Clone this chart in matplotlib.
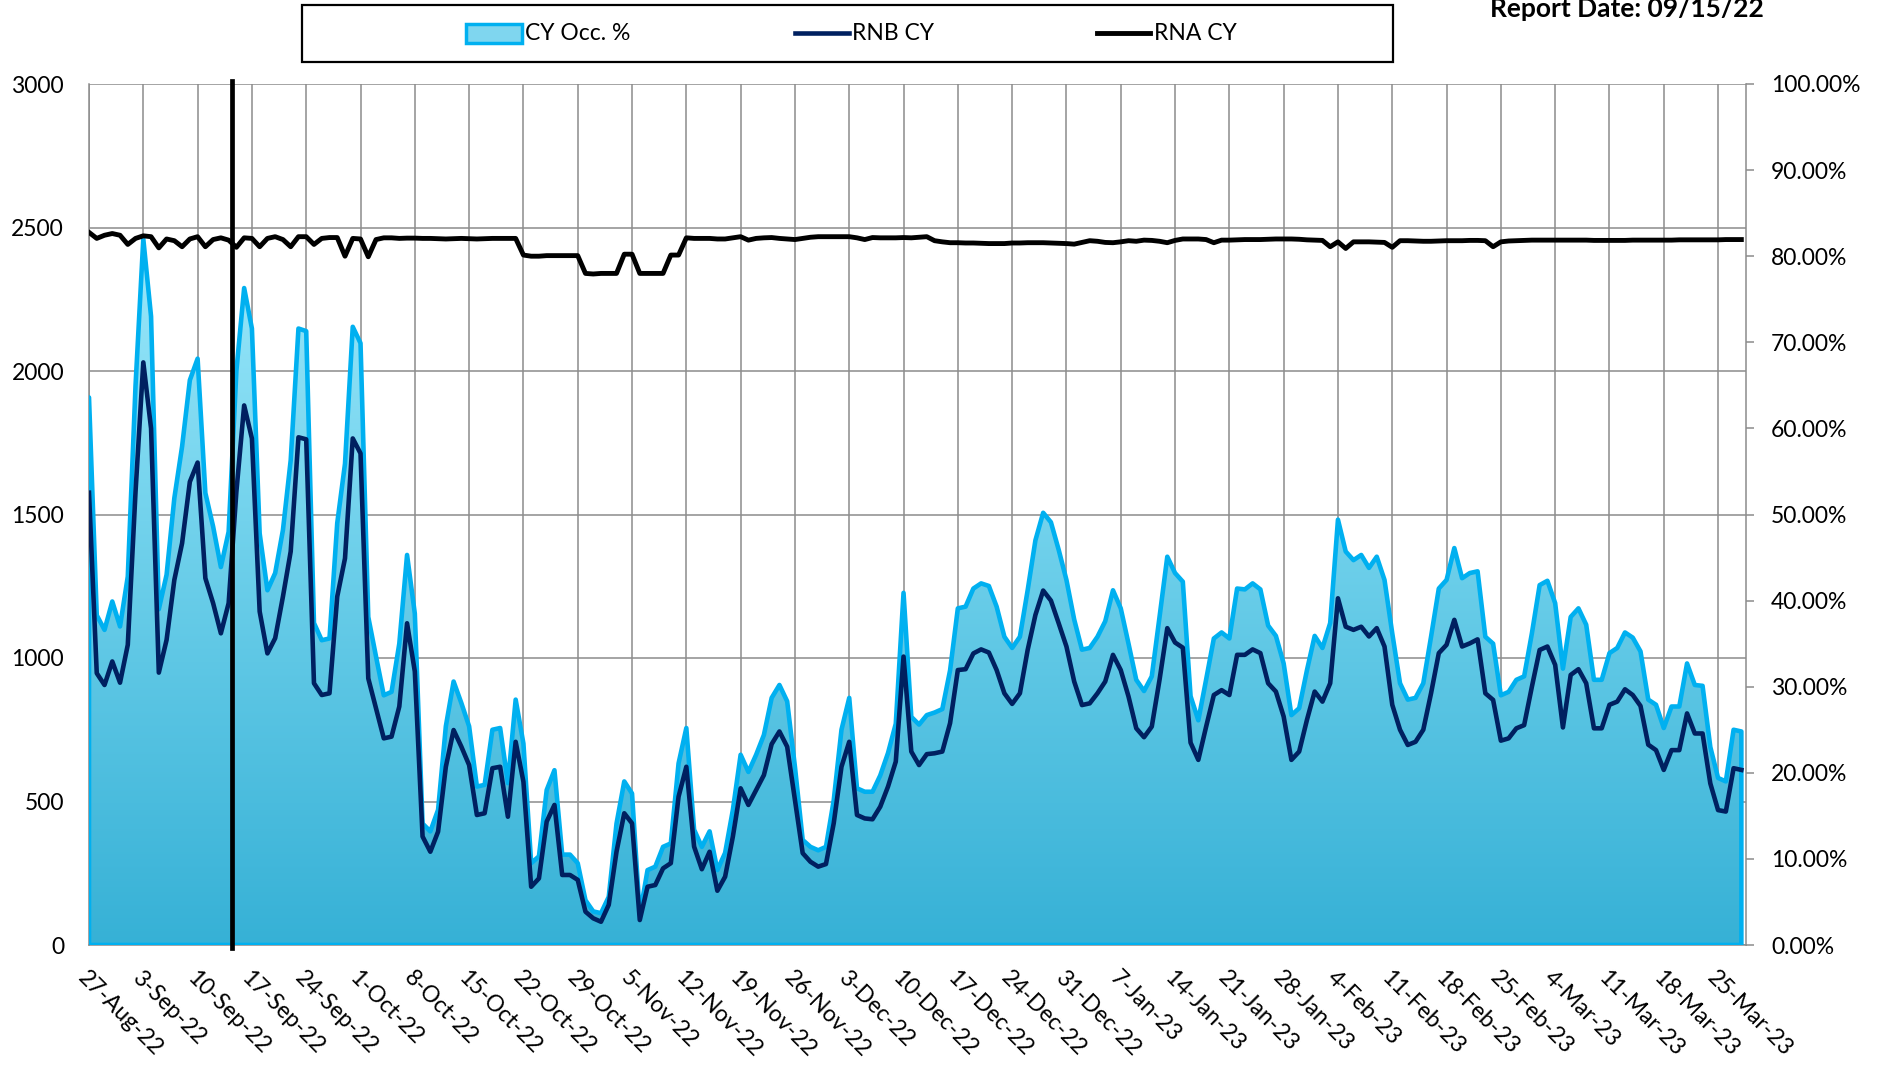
import numpy as np
import matplotlib
matplotlib.use('Agg')
import matplotlib.pyplot as plt
import matplotlib.ticker as ticker
from matplotlib.colors import LinearSegmentedColormap
from matplotlib.lines import Line2D
from matplotlib.patches import Rectangle

plt.rcParams['font.family'] = ['Lato', 'DejaVu Sans']

# weekly tick labels, one every 7 days starting 27-Aug-22
week_labels = ['27-Aug-22', '3-Sep-22', '10-Sep-22', '17-Sep-22', '24-Sep-22', '1-Oct-22',
               '8-Oct-22', '15-Oct-22', '22-Oct-22', '29-Oct-22', '5-Nov-22', '12-Nov-22',
               '19-Nov-22', '26-Nov-22', '3-Dec-22', '10-Dec-22', '17-Dec-22', '24-Dec-22',
               '31-Dec-22', '7-Jan-23', '14-Jan-23', '21-Jan-23', '28-Jan-23', '4-Feb-23',
               '11-Feb-23', '18-Feb-23', '25-Feb-23', '4-Mar-23', '11-Mar-23', '18-Mar-23',
               '25-Mar-23']

# CY Occ. % (right axis), one value per day
occ_pct = [
    63.6, 38.3, 36.6, 39.9, 37.0, 42.8, 65.0, 82.0, 73.0, 39.0,
    43.0, 51.9, 57.9, 65.6, 68.1, 52.5, 48.6, 43.9, 48.0, 66.7,
    76.3, 71.6, 47.8, 41.2, 43.2, 48.2, 56.3, 71.6, 71.3, 37.4,
    35.4, 35.6, 49.0, 55.9, 71.8, 69.9, 38.1, 33.5, 29.0, 29.4,
    35.0, 45.3, 38.5, 14.1, 13.2, 15.7, 25.4, 30.6, 28.1, 25.4,
    18.4, 18.6, 25.0, 25.2, 18.8, 28.5, 23.4, 9.5, 10.3, 18.0,
    20.3, 10.5, 10.5, 9.5, 5.2, 3.9, 3.7, 5.6, 14.1, 19.0,
    17.6, 3.5, 8.7, 9.1, 11.4, 11.8, 21.1, 25.2, 13.4, 11.4,
    13.2, 8.7, 10.7, 15.7, 22.1, 20.1, 22.1, 24.4, 28.7, 30.2,
    28.3, 20.7, 12.2, 11.4, 11.0, 11.4, 16.8, 25.0, 28.7, 18.2,
    17.8, 17.8, 19.7, 22.3, 25.7, 40.9, 26.5, 25.6, 26.7, 27.0,
    27.4, 31.9, 39.1, 39.3, 41.4, 42.0, 41.7, 39.3, 35.8, 34.5,
    35.8, 41.2, 47.0, 50.2, 49.1, 45.9, 42.4, 37.8, 34.3, 34.5,
    35.8, 37.6, 41.2, 39.1, 35.0, 30.8, 29.5, 31.2, 38.1, 45.1,
    43.2, 42.2, 28.9, 26.1, 30.8, 35.6, 36.3, 35.6, 41.4, 41.3,
    42.0, 41.3, 37.1, 35.9, 32.7, 26.7, 27.5, 31.9, 35.9, 34.5,
    37.4, 49.4, 45.7, 44.7, 45.3, 43.8, 45.1, 42.4, 36.2, 30.4,
    28.5, 28.7, 30.4, 35.8, 41.4, 42.4, 46.1, 42.6, 43.2, 43.4,
    35.8, 35.0, 29.0, 29.4, 30.8, 31.2, 36.2, 41.8, 42.3, 39.7,
    32.1, 38.1, 39.1, 37.2, 30.8, 30.8, 33.9, 34.5, 36.3, 35.7,
    34.1, 28.5, 27.9, 25.2, 27.7, 27.7, 32.7, 30.2, 30.1, 23.0,
    19.4, 19.0, 25.0, 24.8,
]

# RNB CY (left axis)
rnb_cy = [
    1576, 947, 906, 988, 914, 1046, 1580, 2030, 1800, 949,
    1063, 1272, 1400, 1614, 1681, 1278, 1191, 1086, 1191, 1580,
    1880, 1765, 1162, 1016, 1069, 1214, 1371, 1769, 1762, 912,
    871, 877, 1214, 1347, 1765, 1713, 929, 825, 720, 726,
    831, 1121, 953, 378, 325, 395, 621, 749, 691, 627,
    453, 459, 616, 621, 447, 708, 569, 203, 232, 430,
    488, 244, 244, 227, 116, 93, 81, 140, 325, 459,
    424, 87, 203, 209, 267, 285, 517, 621, 343, 264,
    325, 189, 238, 378, 546, 488, 540, 592, 700, 744,
    691, 505, 320, 290, 273, 282, 424, 621, 708, 453,
    441, 438, 482, 552, 639, 1005, 674, 627, 665, 668,
    674, 773, 958, 961, 1016, 1030, 1019, 958, 877, 840,
    877, 1028, 1150, 1235, 1200, 1121, 1040, 918, 836, 842,
    877, 918, 1011, 958, 866, 755, 724, 761, 924, 1104,
    1054, 1036, 705, 645, 760, 871, 888, 871, 1011, 1011,
    1030, 1017, 912, 883, 796, 645, 674, 784, 883, 848,
    912, 1208, 1109, 1098, 1109, 1075, 1104, 1040, 837, 750,
    697, 708, 750, 877, 1017, 1046, 1133, 1040, 1051, 1065,
    877, 854, 712, 720, 755, 766, 900, 1028, 1040, 976,
    758, 941, 961, 912, 755, 755, 837, 848, 891, 871,
    833, 698, 679, 610, 679, 679, 807, 737, 737, 563,
    470, 465, 616, 610,
]

# RNA CY (left axis)
rna_cy = [
    2483, 2462, 2473, 2479, 2473, 2441, 2462, 2471, 2468, 2429,
    2460, 2454, 2433, 2460, 2468, 2433, 2458, 2464, 2456, 2431,
    2464, 2462, 2433, 2462, 2468, 2458, 2433, 2468, 2468, 2441,
    2462, 2465, 2465, 2400, 2462, 2460, 2398, 2458, 2464, 2464,
    2462, 2463, 2463, 2462, 2462, 2461, 2460, 2461, 2462, 2461,
    2460, 2461, 2462, 2462, 2462, 2462, 2404, 2400, 2400, 2402,
    2402, 2402, 2402, 2402, 2340, 2338, 2340, 2340, 2340, 2407,
    2407, 2340, 2340, 2340, 2340, 2404, 2404, 2464, 2462, 2462,
    2462, 2460, 2460, 2464, 2468, 2456, 2462, 2464, 2465, 2462,
    2460, 2458, 2462, 2466, 2468, 2468, 2468, 2468, 2468, 2464,
    2458, 2465, 2464, 2464, 2464, 2465, 2464, 2466, 2468, 2454,
    2450, 2447, 2447, 2446, 2446, 2445, 2444, 2444, 2444, 2446,
    2446, 2447, 2447, 2447, 2446, 2445, 2444, 2442, 2448, 2454,
    2452, 2448, 2447, 2450, 2454, 2452, 2456, 2455, 2452, 2447,
    2455, 2460, 2460, 2460, 2458, 2447, 2456, 2456, 2457, 2458,
    2458, 2458, 2459, 2460, 2460, 2460, 2459, 2457, 2456, 2455,
    2433, 2450, 2427, 2450, 2450, 2450, 2449, 2448, 2431, 2454,
    2454, 2453, 2452, 2452, 2453, 2454, 2454, 2454, 2455, 2455,
    2454, 2433, 2450, 2453, 2454, 2455, 2456, 2456, 2456, 2456,
    2456, 2456, 2456, 2456, 2455, 2455, 2455, 2455, 2455, 2456,
    2456, 2456, 2456, 2456, 2456, 2457, 2457, 2457, 2457, 2457,
    2457, 2458, 2458, 2458,
]

report_day = 18.4  # marker for the report date (between 14 and 15 Sep)

GRID = '#8c8c8c'
LIGHT = '#00b0f0'
NAVY = '#002060'
FS = 16.5
W, H = 1885, 1065


def fx(px):
    return px / W


def fy(py):
    return 1 - py / H


days = np.arange(len(occ_pct))

fig = plt.figure(figsize=(W / 100, H / 100), dpi=100)
ax = fig.add_axes([fx(89), fy(945), (1746 - 89) / W, (945 - 84) / H])
ax2 = ax.twinx()

# gradient filled area for occupancy
cmap = LinearSegmentedColormap.from_list('occ', ['#36b1d6', '#9ae8fb'])
grad = np.linspace(0, 1, 256).reshape(-1, 1)
im = ax2.imshow(grad, extent=[0, days[-1], 0, max(occ_pct)], origin='lower',
                aspect='auto', cmap=cmap, zorder=2)
area = ax2.fill_between(days, occ_pct, 0, facecolor='none', edgecolor=LIGHT,
                        lw=3.3, zorder=3)
im.set_clip_path(area.get_paths()[0], ax2.transData)

# count lines drawn in left-axis units but above the area
ax2.plot(np.arange(len(rnb_cy)), rnb_cy, color=NAVY, lw=3.3, zorder=4,
         transform=ax.transData)
ax2.plot(np.arange(len(rna_cy)), rna_cy, color='black', lw=3.5, zorder=5,
         transform=ax.transData)
ax2.axvline(report_day, ymin=-0.004, ymax=1.004, color='black', lw=3.4,
            zorder=6, clip_on=False)

ax.set_xlim(0, 213.6)
ax.set_ylim(0, 3000)
ax2.set_ylim(0, 100)

ax.set_xticks(np.arange(0, 7 * len(week_labels), 7))
ax.set_xticklabels(week_labels, rotation=-45, ha='left', va='top',
                   rotation_mode='anchor')
ax.yaxis.set_major_locator(ticker.MultipleLocator(500))
ax.grid(True, color=GRID, lw=1.1)
ax.tick_params(axis='both', length=0, labelsize=FS)
ax.tick_params(axis='y', pad=18)
ax.tick_params(axis='x', pad=16)

ax2.yaxis.set_major_locator(ticker.MultipleLocator(10))
ax2.yaxis.set_major_formatter(ticker.FuncFormatter(lambda v, p: f'{v:.2f}%'))
ax2.tick_params(axis='y', length=6, width=1.1, color=GRID, pad=12, labelsize=FS)

for name, sp in ax.spines.items():
    sp.set_visible(name in ('left', 'bottom'))
    sp.set_color(GRID)
    sp.set_linewidth(1.1)
for name, sp in ax2.spines.items():
    sp.set_visible(name == 'right')
    sp.set_color(GRID)
    sp.set_linewidth(1.1)

# legend box drawn by hand
fig.add_artist(Rectangle((fx(302), fy(62)), (1393 - 302) / W, 57 / H,
                         transform=fig.transFigure, fill=False,
                         edgecolor='black', lw=1.6))
fig.add_artist(Rectangle((fx(466), fy(43)), 56 / W, 19 / H,
                         transform=fig.transFigure, facecolor='#7fd6ef',
                         edgecolor=LIGHT, lw=2.5))
fig.text(fx(525), fy(34), 'CY Occ. %', fontsize=FS, va='center')
fig.add_artist(Line2D([fx(795), fx(849)], [fy(33), fy(33)], color=NAVY, lw=3.3,
                      transform=fig.transFigure))
fig.text(fx(852), fy(34), 'RNB CY', fontsize=FS, va='center')
fig.add_artist(Line2D([fx(1097), fx(1150)], [fy(33), fy(33)], color='black',
                      lw=3.5, transform=fig.transFigure))
fig.text(fx(1154), fy(34), 'RNA CY', fontsize=FS, va='center')

fig.text(fx(1490), fy(17), 'Report Date: 09/15/22', fontsize=19,
         fontweight='bold', va='baseline', ha='left')

fig.savefig('out.png', dpi=100)
